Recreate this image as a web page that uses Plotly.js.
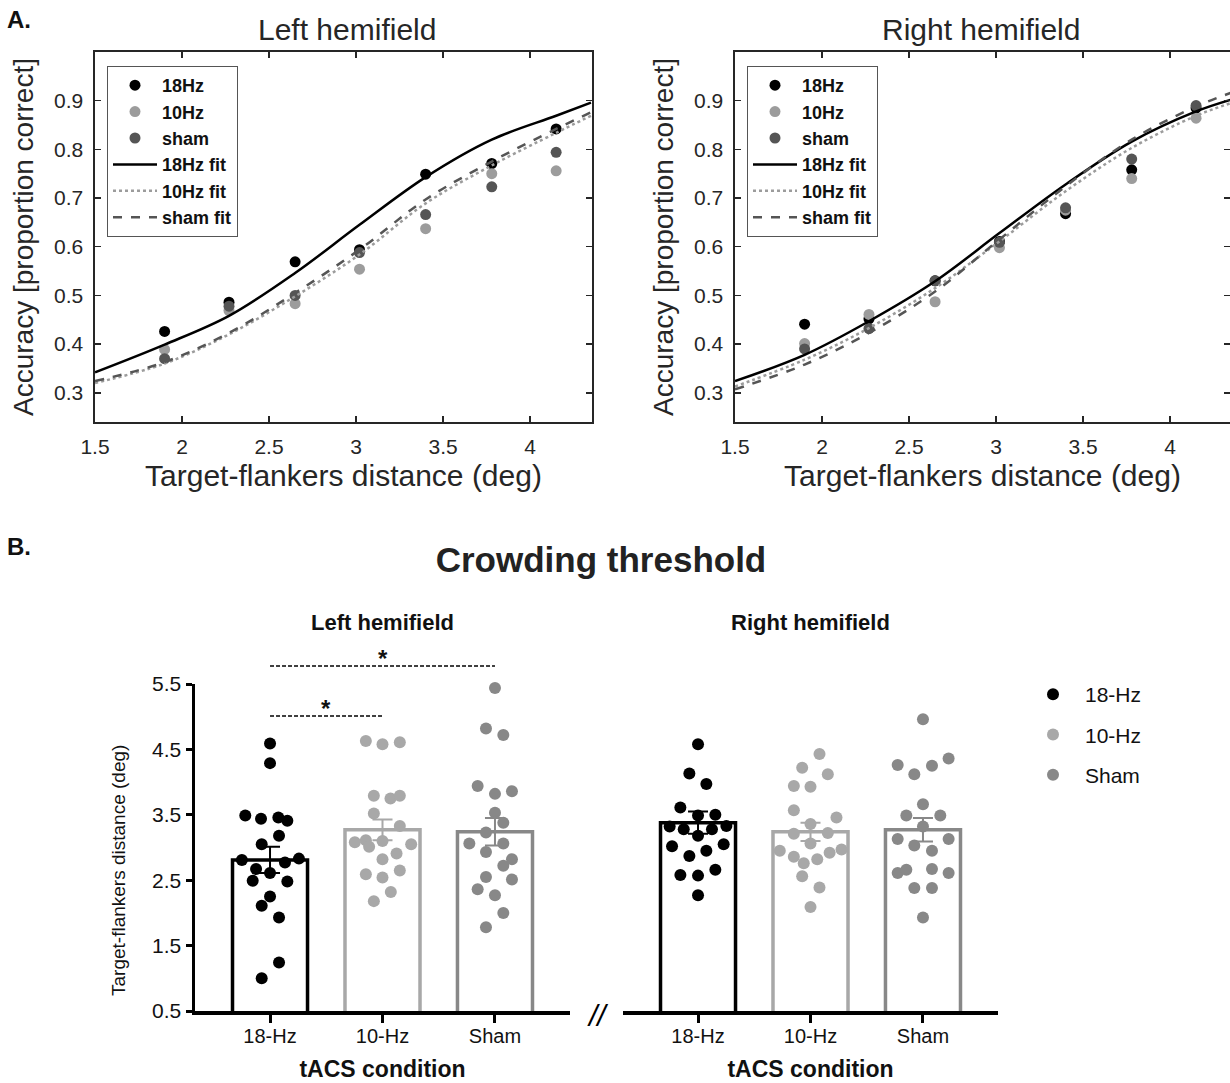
<!DOCTYPE html>
<html>
<head>
<meta charset="utf-8">
<script src="https://cdn.plot.ly/plotly-3.0.1.min.js"></script>
<style>html,body{margin:0;padding:0;background:#fff;}#chart{width:1230px;height:1083px;}</style>
</head>
<body>
<div id="chart"></div>
<script>
// ---------- Panel A data (psychometric) ----------
const distances = [1.9, 2.27, 2.65, 3.02, 3.4, 3.78, 4.15];
const leftAcc18   = [0.426, 0.486, 0.569, 0.594, 0.749, 0.771, 0.842];
const leftAcc10   = [0.389, 0.469, 0.483, 0.554, 0.637, 0.750, 0.756];
const leftAccSham = [0.370, 0.478, 0.500, 0.588, 0.666, 0.723, 0.794];
const rightAcc18   = [0.441, 0.452, 0.530, 0.611, 0.668, 0.758, 0.885];
const rightAcc10   = [0.401, 0.461, 0.487, 0.598, 0.675, 0.740, 0.864];
const rightAccSham = [0.390, 0.432, 0.530, 0.609, 0.680, 0.780, 0.890];

// fitted curves
const fitX = [1.5, 1.9, 2.27, 2.65, 3.02, 3.4, 3.78, 4.15, 4.35];
const leftFit18   = [0.342, 0.399, 0.458, 0.546, 0.645, 0.743, 0.820, 0.869, 0.896];
const leftFit10   = [0.320, 0.360, 0.420, 0.498, 0.584, 0.689, 0.767, 0.834, 0.869];
const leftFitSham = [0.324, 0.363, 0.423, 0.505, 0.594, 0.697, 0.775, 0.842, 0.876];
const rightFit18   = [0.324, 0.378, 0.447, 0.529, 0.628, 0.728, 0.816, 0.878, 0.902];
const rightFit10   = [0.313, 0.368, 0.433, 0.515, 0.611, 0.714, 0.803, 0.869, 0.895];
const rightFitSham = [0.307, 0.358, 0.423, 0.508, 0.615, 0.724, 0.820, 0.888, 0.916];

// ---------- Panel B data (crowding thresholds) ----------
const conditions = ['18-Hz', '10-Hz', 'Sham'];
const leftMeans = [2.81, 3.27, 3.24];
const leftSem   = [0.20, 0.16, 0.21];
const rightMeans = [3.38, 3.24, 3.27];
const rightSem   = [0.17, 0.14, 0.18];

const left18   = [4.59,4.29,3.49,3.44,3.46,3.41,3.18,3.05,2.81,2.83,2.77,2.67,2.61,2.49,2.48,2.25,2.11,1.93,1.24,1.00];
const left18J  = [0,0,-0.22,-0.08,0.074,0.154,0.08,-0.074,-0.25,0.257,0.133,-0.124,0,-0.154,0.154,0,-0.074,0.08,0.08,-0.074];
const left10   = [4.63,4.58,4.61,3.79,3.75,3.79,3.52,3.33,3.08,3.11,3.10,3.01,3.05,2.91,2.82,2.65,2.59,2.54,2.32,2.18];
const left10J  = [-0.148,0,0.154,-0.077,0.071,0.154,-0.077,0.154,-0.246,-0.148,0,-0.119,0.255,0.125,0,0.154,-0.148,0,0.074,-0.077];
const leftSham = [5.44,4.82,4.72,3.94,3.82,3.86,3.53,3.38,3.23,3.06,3.06,2.93,2.82,2.72,2.55,2.51,2.36,2.27,2.00,1.78];
const leftShamJ= [0,-0.08,0.074,-0.154,0,0.151,0,0.074,-0.08,-0.228,0.074,-0.08,0.151,0.074,-0.08,0.151,-0.154,0,0.074,-0.08];
const right18   = [4.58,4.13,3.97,3.61,3.49,3.50,3.32,3.28,3.28,3.33,3.18,3.02,3.05,2.95,2.87,2.66,2.58,2.57,2.27];
const right18J  = [0,-0.077,0.074,-0.157,0,0.154,-0.252,-0.127,0.124,0.252,0,-0.231,0.228,0.074,-0.077,0.154,-0.157,0,0];
const right10   = [4.43,4.22,4.12,3.94,3.93,3.57,3.46,3.36,3.21,3.22,3.06,2.95,2.97,2.86,2.92,2.82,2.76,2.56,2.39,2.09];
const right10J  = [0.08,-0.074,0.154,-0.148,0,-0.148,0.231,0,-0.148,0.154,0,-0.273,0.276,-0.148,0.17,0.06,-0.06,-0.074,0.08,0];
const rightSham = [4.96,4.26,4.12,4.25,4.36,3.66,3.49,3.49,3.32,3.13,3.13,3.03,2.95,2.61,2.66,2.67,2.61,2.38,2.38,1.93];
const rightShamJ= [0,-0.225,-0.077,0.08,0.228,0,-0.148,0.154,0,-0.225,0.228,-0.077,0.08,-0.225,-0.148,0.08,0.228,-0.077,0.08,0];

// ---------- styling ----------
const FONT = 'Liberation Sans, Arial, Helvetica, sans-serif';
const AX = '#262626';
const topCol = {c18: '#000000', c10: '#9c9c9c', sham: '#555555'};
const botCol = ['#000000', '#a8a8a8', '#888888'];
const W = 1230, H = 1083;
const px = v => v / W;
const py = v => 1 - v / H;

const traces = [];

function addTopPanel(xa, ya, legendId, acc18, acc10, accSham, f18, f10, fSham) {
  const mk = (name, y, color) => ({
    type: 'scatter', mode: 'markers', name: name, x: distances, y: y,
    xaxis: xa, yaxis: ya, legend: legendId, cliponaxis: false,
    marker: {color: color, size: 11}
  });
  const ln = (name, y, color, dash, width) => ({
    type: 'scatter', mode: 'lines', name: name, x: fitX, y: y,
    xaxis: xa, yaxis: ya, legend: legendId,
    line: {color: color, dash: dash, width: width, shape: 'spline', smoothing: 1}
  });
  traces.push(mk('18Hz', acc18, topCol.c18));
  traces.push(mk('10Hz', acc10, topCol.c10));
  traces.push(mk('sham', accSham, topCol.sham));
  traces.push(ln('18Hz fit', f18, topCol.c18, 'solid', 2.5));
  traces.push(ln('10Hz fit', f10, topCol.c10, 'dot', 2.5));
  traces.push(ln('sham fit', fSham, topCol.sham, 'dash', 2.5));
}
addTopPanel('x', 'y', 'legend', leftAcc18, leftAcc10, leftAccSham, leftFit18, leftFit10, leftFitSham);
addTopPanel('x2', 'y2', 'legend2', rightAcc18, rightAcc10, rightAccSham, rightFit18, rightFit10, rightFitSham);

function addBottomPanel(xa, ya, means, sems, groups, showLeg) {
  means.forEach((m, i) => {
    traces.push({
      type: 'bar', x: [i], y: [m], width: 0.667, xaxis: xa, yaxis: ya, showlegend: false,
      marker: {color: 'rgba(255,255,255,1)', line: {color: botCol[i], width: 3.5}},
      error_y: {type: 'data', array: [sems[i]], color: botCol[i], thickness: 2, width: 10},
      hoverinfo: 'skip'
    });
  });
  groups.forEach((g, i) => {
    traces.push({
      type: 'scatter', mode: 'markers', name: conditions[i],
      x: g.y.map((v, k) => i + g.j[k]), y: g.y,
      xaxis: xa, yaxis: ya, cliponaxis: false,
      legend: 'legend3', legendgroup: 'g' + i, showlegend: showLeg,
      marker: {color: botCol[i], size: 12}
    });
  });
}
addBottomPanel('x3', 'y3', leftMeans, leftSem,
  [{y: left18, j: left18J}, {y: left10, j: left10J}, {y: leftSham, j: leftShamJ}], true);
addBottomPanel('x4', 'y4', rightMeans, rightSem,
  [{y: right18, j: right18J}, {y: right10, j: right10J}, {y: rightSham, j: rightShamJ}], false);

// ---------- axes ----------
const topX = (dom, range) => ({
  domain: dom, range: range, tickvals: [1.5, 2, 2.5, 3, 3.5, 4], ticktext: ['1.5','2','2.5','3','3.5','4'],
  showline: true, linecolor: AX, linewidth: 1.6, mirror: 'ticks', ticks: 'inside', ticklen: 6, tickwidth: 1.5, tickcolor: AX,
  showgrid: false, zeroline: false, tickfont: {family: FONT, size: 21, color: AX}, ticklabelstandoff: 5,
  title: {text: 'Target-flankers distance (deg)', font: {family: FONT, size: 30, color: AX}, standoff: 8}
});
const topY = (anchor) => ({
  domain: [py(422), py(52)], range: [0.24, 1.0], anchor: anchor,
  tickvals: [0.3, 0.4, 0.5, 0.6, 0.7, 0.8, 0.9], ticktext: ['0.3','0.4','0.5','0.6','0.7','0.8','0.9'],
  showline: true, linecolor: AX, linewidth: 1.6, mirror: 'ticks', ticks: 'inside', ticklen: 6, tickwidth: 1.5, tickcolor: AX,
  showgrid: false, zeroline: false, tickfont: {family: FONT, size: 21, color: AX}, ticklabelstandoff: 6,
  title: {text: 'Accuracy [proportion correct]', font: {family: FONT, size: 28, color: AX}, standoff: 12}
});
const botX = (dom, anchor) => ({
  domain: dom, anchor: anchor, range: [-0.667, 2.667], tickvals: [0, 1, 2], ticktext: conditions,
  showline: true, linecolor: '#000', linewidth: 3.5, ticks: 'outside', ticklen: 8, tickwidth: 3, tickcolor: '#000',
  showgrid: false, zeroline: false, tickfont: {family: FONT, size: 20, color: '#111'}, ticklabelstandoff: -4,
  title: {text: 'tACS condition', font: {family: FONT, size: 23, color: '#111', weight: 'bold'}, standoff: 16}
});

const layout = {
  width: W, height: H,
  margin: {l: 0, r: 0, t: 0, b: 0, autoexpand: false},
  paper_bgcolor: '#fff', plot_bgcolor: 'rgba(0,0,0,0)',
  font: {family: FONT, color: '#111'},
  barmode: 'overlay',
  title: {text: 'Crowding threshold', x: px(601), xanchor: 'center', y: py(560), yanchor: 'middle',
          font: {family: FONT, size: 35, color: '#222', weight: 'bold'}},
  xaxis: topX([px(95), px(592)], [1.5, 4.356]),
  yaxis: topY('x'),
  xaxis2: Object.assign(topX([px(735), 1], [1.5, 4.345]), {anchor: 'y2'}),
  yaxis2: topY('x2'),
  xaxis3: botX([px(195), px(570)], 'y3'),
  yaxis3: {
    domain: [py(1011), py(684)], anchor: 'x3', range: [0.5, 5.5],
    tickvals: [0.5, 1.5, 2.5, 3.5, 4.5, 5.5], ticktext: ['0.5','1.5','2.5','3.5','4.5','5.5'],
    showline: true, linecolor: '#000', linewidth: 3.5, ticks: 'outside', ticklen: 6, tickwidth: 3, tickcolor: '#000',
    showgrid: false, zeroline: false, tickfont: {family: FONT, size: 21, color: '#111'}
  },
  xaxis4: botX([px(623), px(998)], 'y4'),
  yaxis4: {domain: [py(1011), py(684)], anchor: 'x4', range: [0.5, 5.5], visible: false},
  legend: {x: px(107), y: py(66), xanchor: 'left', yanchor: 'top', bgcolor: '#fff',
           bordercolor: '#555', borderwidth: 1, itemwidth: 44,
           font: {family: FONT, size: 18, color: '#111', weight: 'bold'}, tracegroupgap: 0},
  legend2: {x: px(747), y: py(66), xanchor: 'left', yanchor: 'top', bgcolor: '#fff',
            bordercolor: '#555', borderwidth: 1, itemwidth: 44,
            font: {family: FONT, size: 18, color: '#111', weight: 'bold'}, tracegroupgap: 0},
  legend3: {x: px(1021), y: py(674), xanchor: 'left', yanchor: 'top', bgcolor: 'rgba(0,0,0,0)',
            borderwidth: 0, itemwidth: 54, font: {family: FONT, size: 21, color: '#111'},
            traceorder: 'grouped', tracegroupgap: 10},
  shapes: [
    {type: 'line', xref: 'x3', yref: 'paper', x0: 0, x1: 1, y0: py(716), y1: py(716),
     line: {color: '#000', width: 1.3, dash: '4px,2px'}},
    {type: 'line', xref: 'x3', yref: 'paper', x0: 0, x1: 2, y0: py(666), y1: py(666),
     line: {color: '#000', width: 1.3, dash: '4px,2px'}}
  ],
  annotations: [
    {text: 'A.', xref: 'paper', yref: 'paper', x: px(5), y: py(19), xanchor: 'left', yanchor: 'middle',
     showarrow: false, font: {family: FONT, size: 24, color: '#111', weight: 'bold'}},
    {text: 'B.', xref: 'paper', yref: 'paper', x: px(5), y: py(546), xanchor: 'left', yanchor: 'middle',
     showarrow: false, font: {family: FONT, size: 24, color: '#111', weight: 'bold'}},
    {text: 'Left hemifield', xref: 'paper', yref: 'paper', x: px(347), y: py(30), xanchor: 'center', yanchor: 'middle',
     showarrow: false, font: {family: FONT, size: 30, color: AX}},
    {text: 'Right hemifield', xref: 'paper', yref: 'paper', x: px(981), y: py(30), xanchor: 'center', yanchor: 'middle',
     showarrow: false, font: {family: FONT, size: 30, color: AX}},
    {text: 'Left hemifield', xref: 'paper', yref: 'paper', x: px(382), y: py(622), xanchor: 'center', yanchor: 'middle',
     showarrow: false, font: {family: FONT, size: 22, color: '#111', weight: 'bold'}},
    {text: 'Right hemifield', xref: 'paper', yref: 'paper', x: px(810), y: py(622), xanchor: 'center', yanchor: 'middle',
     showarrow: false, font: {family: FONT, size: 22, color: '#111', weight: 'bold'}},
    {text: 'Target-flankers distance (deg)', xref: 'paper', yref: 'paper', x: px(118), y: py(871),
     xanchor: 'center', yanchor: 'middle', textangle: -90,
     showarrow: false, font: {family: FONT, size: 19, color: '#111'}},
    {text: '*', xref: 'x3', yref: 'paper', x: 0.5, y: py(724), xanchor: 'center', yanchor: 'bottom',
     showarrow: false, font: {family: FONT, size: 24, color: '#111', weight: 'bold'}},
    {text: '*', xref: 'x3', yref: 'paper', x: 1, y: py(674), xanchor: 'center', yanchor: 'bottom',
     showarrow: false, font: {family: FONT, size: 24, color: '#111', weight: 'bold'}},
    {text: '<i>//</i>', xref: 'paper', yref: 'paper', x: px(597), y: py(1015), xanchor: 'center', yanchor: 'middle',
     showarrow: false, font: {family: FONT, size: 30, color: '#000'}}
  ]
};

Plotly.newPlot('chart', traces, layout, {displayModeBar: false, staticPlot: true});
</script>
</body>
</html>
